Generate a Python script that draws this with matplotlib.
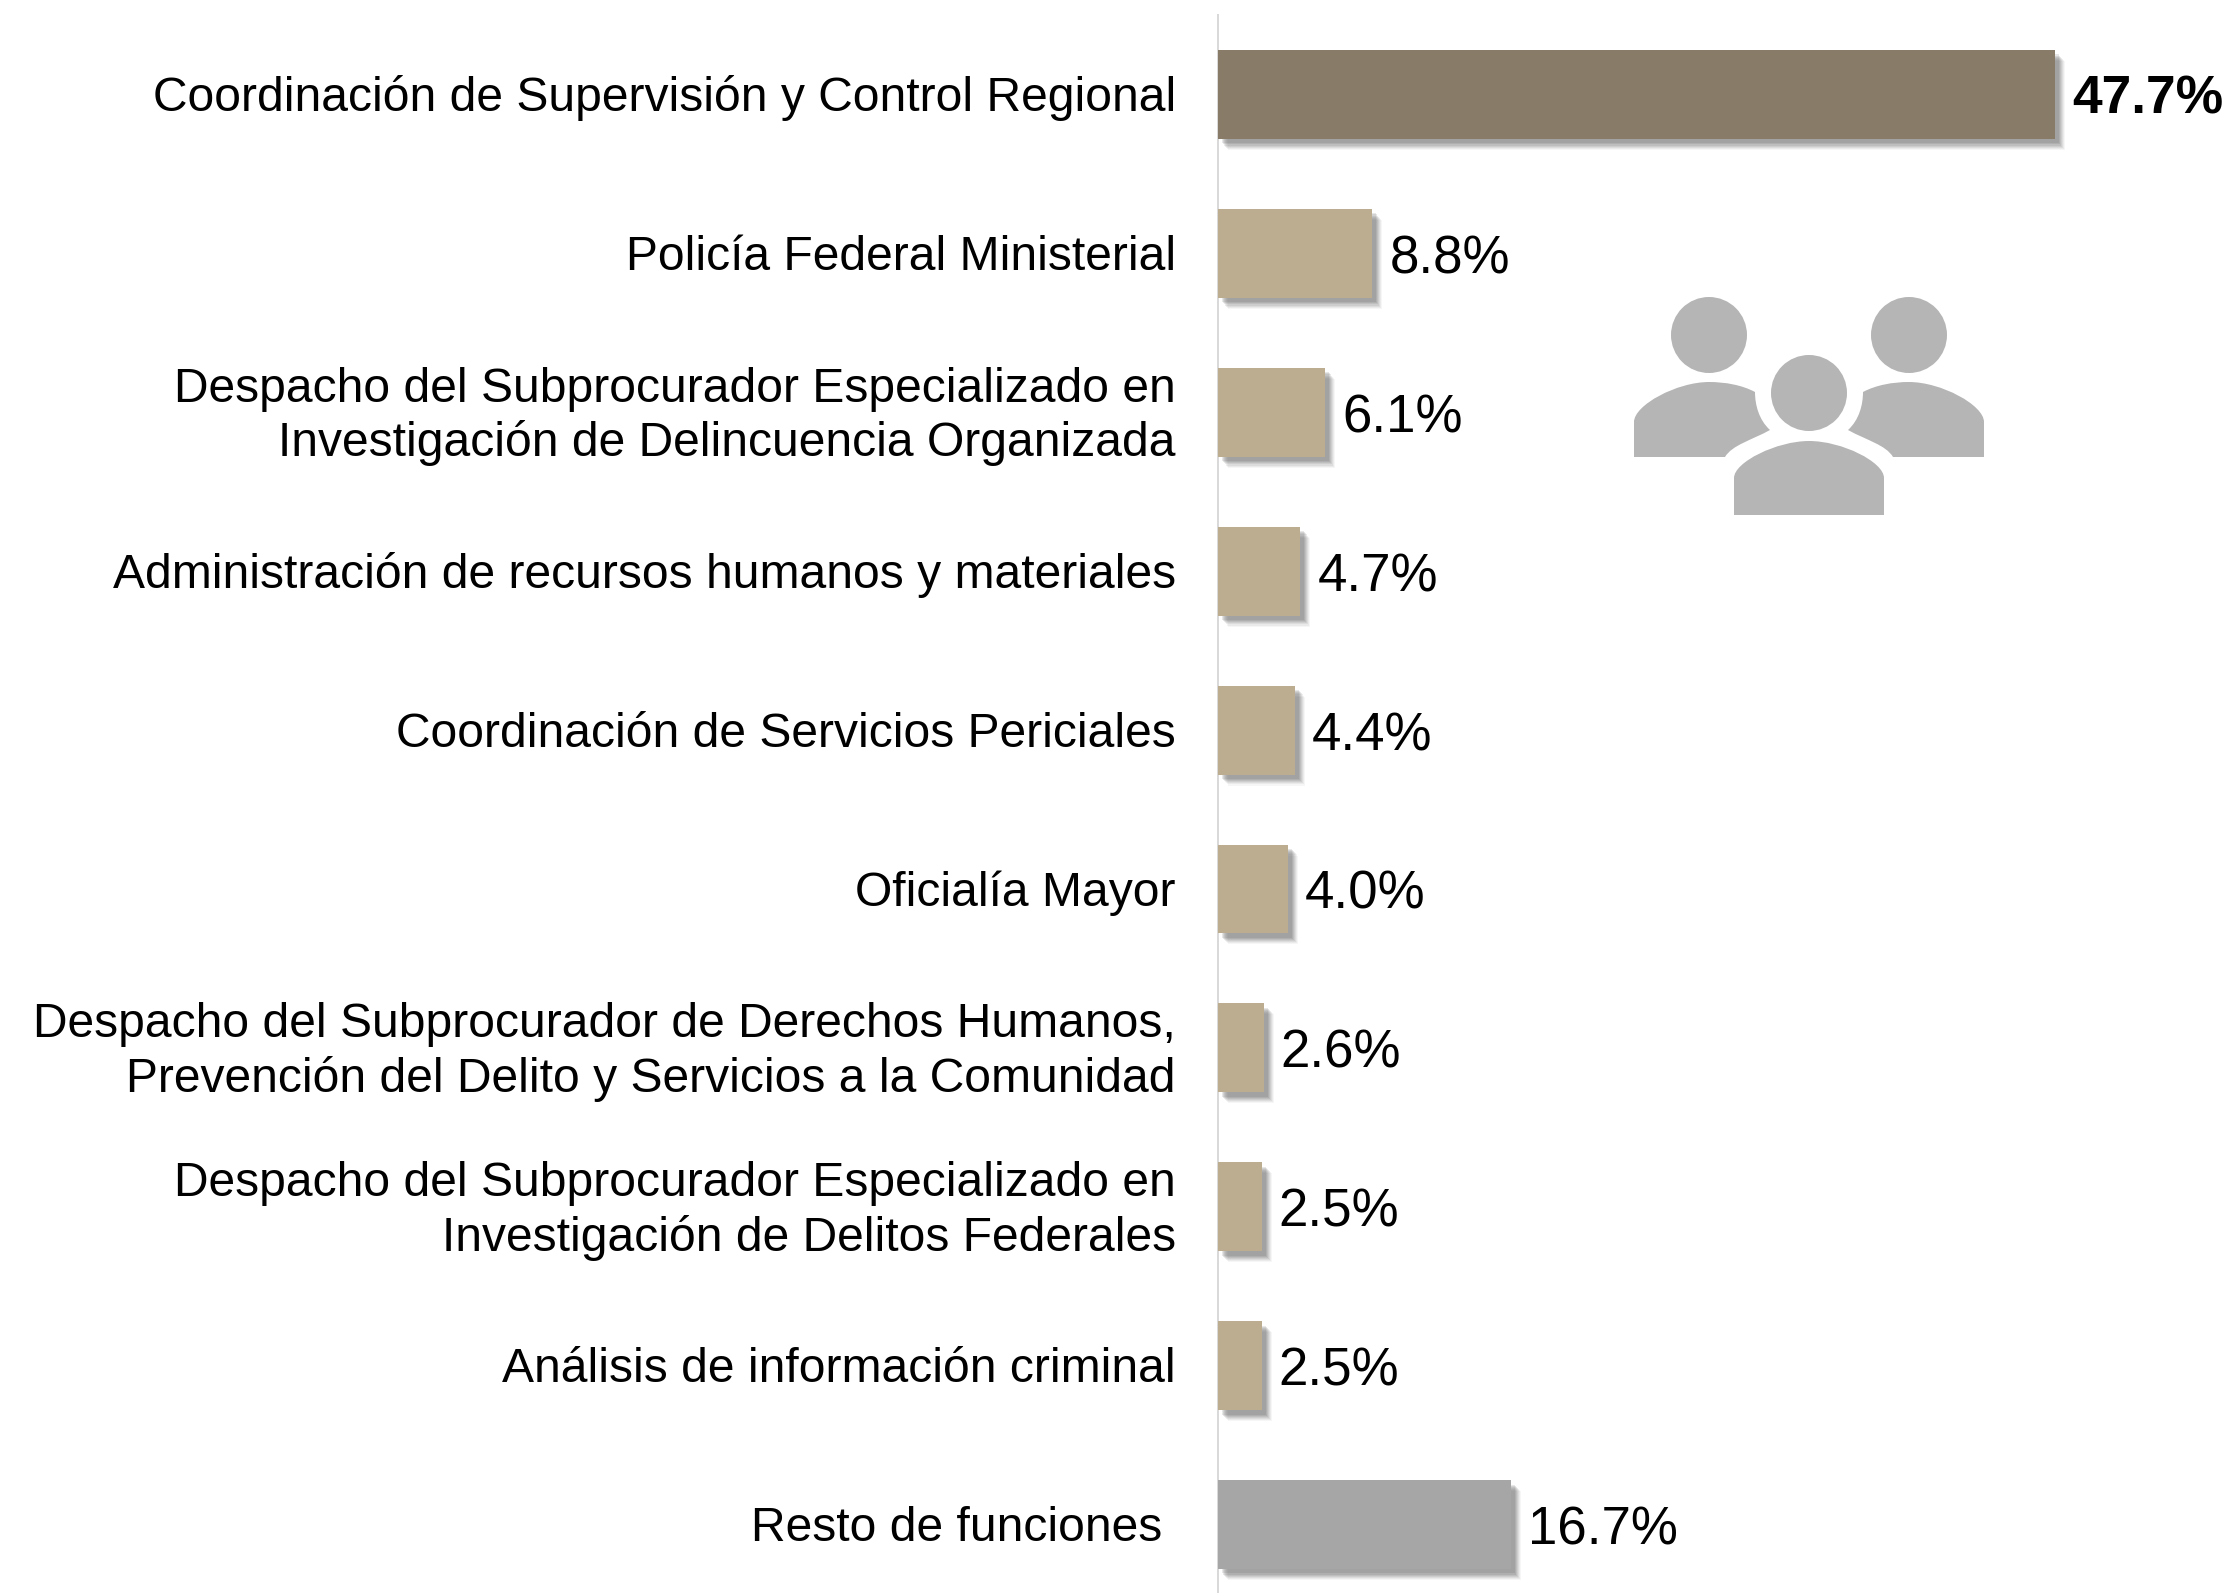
import matplotlib
matplotlib.use('Agg')
import matplotlib.pyplot as plt
import matplotlib.patheffects as pe
from matplotlib.patches import Circle, PathPatch
from matplotlib.path import Path
from matplotlib.transforms import ScaledTranslation

plt.rcParams['font.family'] = ['Liberation Sans', 'DejaVu Sans']

# --- Data ---
CATEGORIES = [
    'Coordinación de Supervisión y Control Regional',
    'Policía Federal Ministerial',
    'Despacho del Subprocurador Especializado en\nInvestigación de Delincuencia Organizada',
    'Administración de recursos humanos y materiales',
    'Coordinación de Servicios Periciales',
    'Oficialía Mayor',
    'Despacho del Subprocurador de Derechos Humanos,\nPrevención del Delito y Servicios a la Comunidad',
    'Despacho del Subprocurador Especializado en\nInvestigación de Delitos Federales',
    'Análisis de información criminal',
    'Resto de funciones ',
]
VALUES = [47.7, 8.8, 6.1, 4.7, 4.4, 4.0, 2.6, 2.5, 2.5, 16.7]
COLORS = ['#887B67'] + ['#BCAD91'] * 8 + ['#A6A6A6']

W, H = 2229, 1593
PX = 72 / 100  # points per pixel at dpi 100


def soft_shadow():
    # stacked offsets to fake the blurred PowerPoint shadow
    effects = []
    for off, alpha in [(10, 0.05), (9, 0.07), (8, 0.09), (7, 0.11), (6, 0.12), (5, 0.14), (4, 0.14)]:
        effects.append(pe.SimplePatchShadow(offset=(off * PX, -off * PX * 1.1),
                                            shadow_rgbFace='#555555', alpha=alpha))
    effects.append(pe.Normal())
    return effects


def draw_icon(fig):
    # overlay in pixel coordinates for the people pictogram
    ov = fig.add_axes([0, 0, 1, 1], zorder=5)
    ov.set_xlim(0, W)
    ov.set_ylim(H, 0)
    ov.axis('off')
    grey = '#B5B5B5'
    for cx, cy in [(1709, 335), (1909, 335), (1809, 393)]:
        ov.add_patch(Circle((cx, cy), 38, fc=grey, ec='none'))

    M, L, C = Path.MOVETO, Path.LINETO, Path.CURVE4
    left = [(1634, 457), (1634, 422), (1634, 405), (1677, 382), (1709, 382),
            (1725, 382), (1742, 385), (1755, 392),
            (1755, 405), (1759, 420), (1770, 430),
            (1752, 440), (1732, 445), (1725, 457), (1634, 457)]
    codes = [M, L, C, C, C, C, C, C, C, C, C, C, C, C, L]
    ov.add_patch(PathPatch(Path(left, codes), fc=grey, ec='none'))
    right = [(3618 - x, y) for x, y in left]
    ov.add_patch(PathPatch(Path(right, codes), fc=grey, ec='none'))
    centre = [(1734, 515), (1734, 478), (1734, 462), (1777, 441), (1809, 441),
              (1842, 441), (1884, 462), (1884, 478), (1884, 515), (1734, 515)]
    ccodes = [M, L, C, C, C, C, C, C, L, L]
    ov.add_patch(PathPatch(Path(centre, ccodes), fc=grey, ec='none'))


def main():
    fig = plt.figure(figsize=(W / 100, H / 100), dpi=100)
    # axes runs from the vertical axis line to the right edge
    ax = fig.add_axes([1218 / W, 0, (W - 1218) / W, 1 - 15 / H])

    y = list(range(len(VALUES)))
    bars = ax.barh(y, VALUES, height=0.56, color=COLORS, zorder=3)
    for bar in bars:
        bar.set_path_effects(soft_shadow())

    ax.set_xlim(0, (W - 1218) / 17.55)
    ax.set_ylim((1593 - 94.5) / 158.9, (15 - 94.5) / 158.9)

    ax.set_yticks(y)
    ax.set_yticklabels(CATEGORIES, fontsize=34.55, color='#000000', linespacing=1.24)
    ax.tick_params(axis='y', length=0, pad=42 * PX)
    ax.set_xticks([])
    # two-line labels sit a little higher than the single-line ones
    for lab in ax.get_yticklabels():
        up = 5 if '\n' in lab.get_text() else 1
        lab.set_transform(lab.get_transform() + ScaledTranslation(0, up / 100, fig.dpi_scale_trans))

    for side in ['top', 'right', 'bottom']:
        ax.spines[side].set_visible(False)
    ax.spines['left'].set_color('#D9D9D9')
    ax.spines['left'].set_linewidth(2 * PX)

    for i, val in enumerate(VALUES):
        bold = i == 0
        ax.annotate(f'{val:.1f}%', (val, i), xytext=(17 * PX, -5 * PX if bold else -6 * PX),
                    textcoords='offset points', va='center', ha='left',
                    fontsize=38.4 if bold else 38.1, color='#000000',
                    fontweight='bold' if bold else 'normal', zorder=4)

    draw_icon(fig)
    fig.savefig('out.png', dpi=100, facecolor='white')


if __name__ == "__main__":
    main()
